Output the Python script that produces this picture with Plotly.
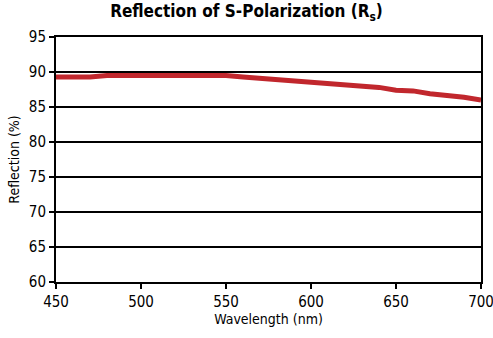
import plotly.graph_objects as go

# Reflectance of S-polarized light versus wavelength
wavelength_nm = [450, 460, 470, 480, 490, 500, 510, 520, 530, 540, 550, 560, 570,
                 580, 590, 600, 610, 620, 630, 640, 650, 660, 670, 680, 690, 700]
reflection_pct = [89.3, 89.3, 89.3, 89.5, 89.5, 89.5, 89.5, 89.5, 89.5, 89.5, 89.5,
                  89.3, 89.1, 88.9, 88.7, 88.5, 88.4, 88.2, 88.0, 87.8, 87.4, 87.3,
                  86.9, 86.7, 86.4, 86.0]

x_ticks = [450, 500, 550, 600, 650, 700]
y_ticks = [60, 65, 70, 75, 80, 85, 90, 95]

FONT = "DejaVu Sans Condensed, DejaVu Sans, sans-serif"

fig = go.Figure()
fig.add_trace(go.Scatter(
    x=wavelength_nm, y=reflection_pct, mode="lines",
    line=dict(color="#c1272d", width=5), hoverinfo="skip", showlegend=False,
))

fig.update_layout(
    width=493, height=338,
    margin=dict(l=56, r=12, t=37, b=56, autoexpand=False),
    paper_bgcolor="white", plot_bgcolor="white",
    font=dict(family=FONT, color="black", size=16),
    title=dict(text="<b>Reflection of S-Polarization (R<sub>s</sub>)</b>",
               x=0.5, xanchor="center", y=0.985, yanchor="top",
               font=dict(size=17, family=FONT)),
)
fig.update_xaxes(
    range=[450, 700], tickvals=x_ticks, ticks="outside", ticklen=5, tickwidth=2,
    tickcolor="black", showline=True, linecolor="black", linewidth=2, mirror=True,
    showgrid=False, zeroline=False, tickfont=dict(size=15),
    ticklabeloverflow="allow", automargin=False,
    title=dict(text="Wavelength (nm)", font=dict(size=14), standoff=4),
)
fig.update_yaxes(
    range=[60, 95], tickvals=y_ticks, ticks="outside", ticklen=5, tickwidth=2,
    tickcolor="black", showline=True, linecolor="black", linewidth=2, mirror=True,
    showgrid=True, gridcolor="black", gridwidth=2, zeroline=False,
    tickfont=dict(size=15), automargin=False,
    title=dict(text="Reflection (%)", font=dict(size=14), standoff=6),
)

# narrow letterforms for all chart text
condense = (
    "var s=document.createElement('style');"
    "s.textContent='.main-svg text{font-stretch:condensed !important;}';"
    "document.head.appendChild(s);"
)
fig.write_html("out.html", post_script=condense)
